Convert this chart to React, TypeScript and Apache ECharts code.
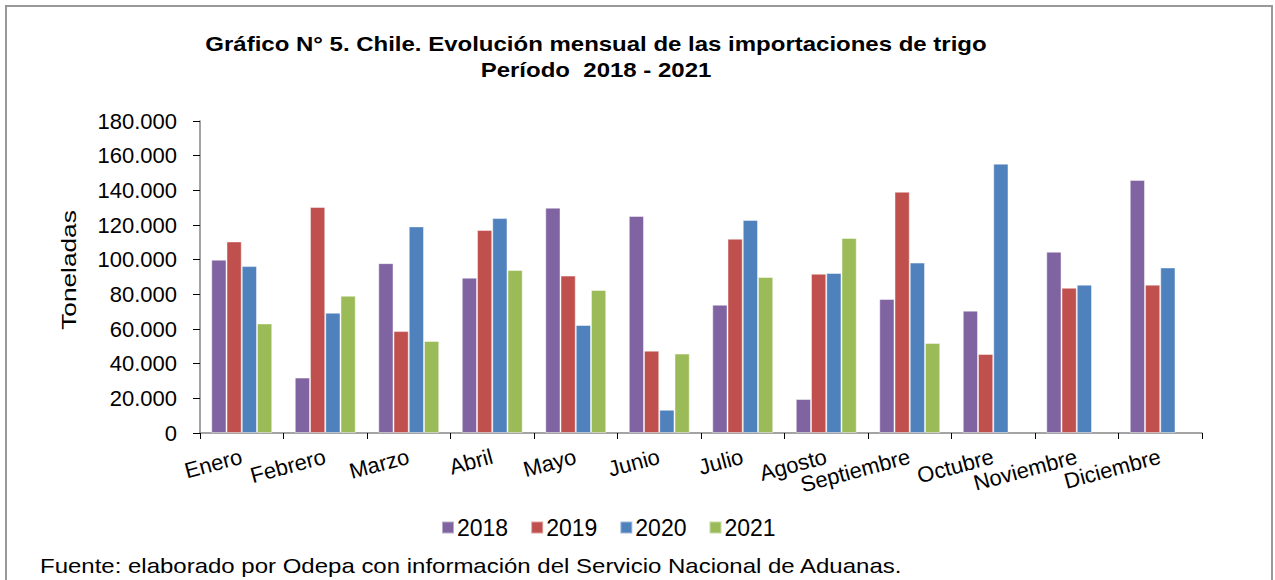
import React, { useEffect, useRef } from "react";
import * as echarts from "echarts";

const months = ["Enero", "Febrero", "Marzo", "Abril", "Mayo", "Junio", "Julio", "Agosto", "Septiembre", "Octubre", "Noviembre", "Diciembre"];
const years = ["2018", "2019", "2020", "2021"];
const v2018 = [100000, 32000, 98000, 89600, 130000, 125200, 74000, 19600, 77300, 70600, 104600, 146000];
const v2019 = [110500, 130400, 58800, 117100, 90800, 47500, 112100, 91900, 139200, 45600, 83800, 85600];
const v2020 = [96300, 69400, 119200, 124000, 62300, 13400, 122900, 92300, 98300, 155400, 85600, 95500];
const v2021 = [63200, 79200, 53100, 94000, 82500, 45800, 90000, 112500, 51900, null, null, null];
const yTicks = [0, 20000, 40000, 60000, 80000, 100000, 120000, 140000, 160000, 180000];
const colors = ["#8064A2", "#C0504D", "#4F81BD", "#9BBB59"];
const titleLine1 = "Gráfico N° 5. Chile. Evolución mensual de las importaciones de trigo";
const titleLine2 = "Período  2018 - 2021";
const yName = "Toneladas";
const footer = "Fuente: elaborado por Odepa con información del Servicio Nacional de Aduanas.";

const FONT = "'Liberation Sans', Arial, sans-serif";

function fmt(v: number) {
  return String(v).replace(/\B(?=(\d{3})+(?!\d))/g, ".");
}

export default function App() {
  const ref = useRef<HTMLDivElement>(null);
  useEffect(() => {
    if (!ref.current) return;
    const chart = echarts.init(ref.current, null, { renderer: "svg" });
    const series = [v2018, v2019, v2020, v2021].map((d, i) => ({
      name: years[i],
      type: "bar",
      data: d,
      barGap: "0%",
      barCategoryGap: "27%",
      itemStyle: { color: colors[i], borderColor: "rgba(255,255,255,0.45)", borderWidth: 1 },
    }));
    chart.setOption({
      animation: false,
      backgroundColor: "#ffffff",
      color: colors,
      legend: {
        data: years,
        left: 441,
        top: 516,
        padding: 0,
        itemWidth: 12,
        itemHeight: 12,
        itemGap: 22,
        icon: "rect",
        textStyle: { fontFamily: FONT, fontSize: 23, color: "#000", padding: [0, 0, 0, -2] },
      },
      grid: { left: 200, right: 73, top: 121, bottom: 147, containLabel: false },
      xAxis: {
        type: "category",
        data: months,
        axisLine: { lineStyle: { color: "#868686", width: 1.5 } },
        axisTick: { show: true, length: 6, lineStyle: { color: "#000" } },
        axisLabel: { rotate: 15, margin: 23, fontFamily: FONT, fontSize: 22, color: "#000", interval: 0 },
      },
      yAxis: {
        type: "value",
        min: 0,
        max: 180000,
        interval: 20000,
        splitLine: { show: false },
        axisLine: { show: true, lineStyle: { color: "#868686", width: 1.5 } },
        axisTick: { show: true, length: 7, lineStyle: { color: "#000" } },
        axisLabel: {
          fontFamily: FONT,
          fontSize: 22,
          color: "#000",
          margin: 23,
          formatter: (v: number) => (yTicks.includes(v) ? fmt(v) : ""),
        },
      },
      graphic: [
        {
          type: "rect",
          shape: { x: 6, y: 6, width: 1266, height: 640 },
          style: { fill: "none", stroke: "#999999", lineWidth: 2 },
          silent: true,
        },
        {
          type: "text",
          x: 596,
          y: 44,
          scaleX: 1.2,
          style: { text: titleLine1, x: 0, y: 0, align: "center", verticalAlign: "middle", fontFamily: FONT, fontWeight: "bold", fontSize: 20, fill: "#000" },
        },
        {
          type: "text",
          x: 596,
          y: 70,
          scaleX: 1.2,
          style: { text: titleLine2, x: 0, y: 0, align: "center", verticalAlign: "middle", fontFamily: FONT, fontWeight: "bold", fontSize: 20, fill: "#000" },
        },
        {
          type: "text",
          x: 68,
          y: 270,
          rotation: Math.PI / 2,
          scaleX: 1.25,
          style: { text: yName, x: 0, y: 0, align: "center", verticalAlign: "middle", fontFamily: FONT, fontSize: 21, fill: "#000" },
        },
        {
          type: "text",
          x: 40,
          y: 566,
          scaleX: 1.2,
          style: { text: footer, x: 0, y: 0, align: "left", verticalAlign: "middle", fontFamily: FONT, fontSize: 20, fill: "#000" },
        },
      ],
      series,
    });
    return () => chart.dispose();
  }, []);
  return <div ref={ref} style={{ position: "fixed", left: 0, top: 0, width: 1275, height: 580 }} />;
}
